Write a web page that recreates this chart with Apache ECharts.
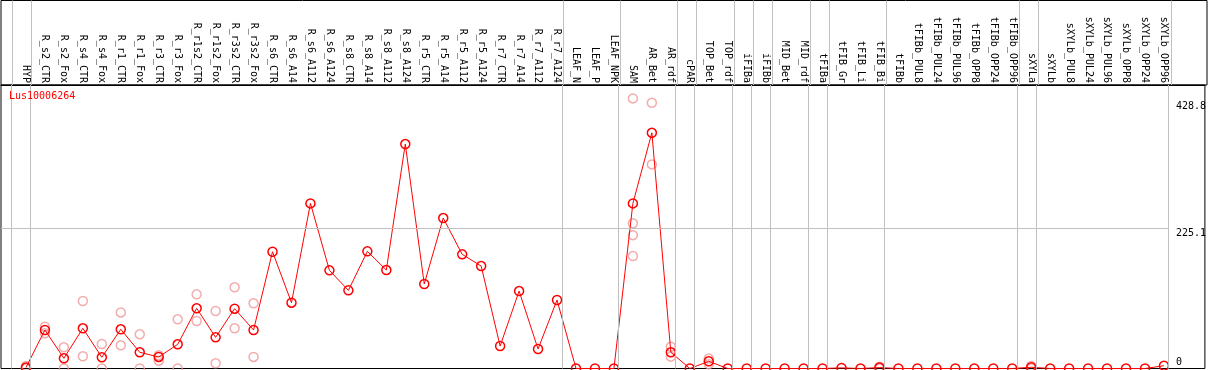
<!DOCTYPE html>
<html>
<head>
<meta charset="utf-8">
<script src="https://cdn.jsdelivr.net/npm/echarts@6/dist/echarts.min.js"></script>
<style>
  html, body { margin: 0; padding: 0; background: #fff; }
  #chart { width: 1209px; height: 370px; }
</style>
</head>
<body>
<div id="chart"></div>
<script>
// 样品名
var categories = ['HYP', 'R_s2_CTR', 'R_s2_Fox', 'R_s4_CTR', 'R_s4_Fox', 'R_r1_CTR', 'R_r1_Fox', 'R_r3_CTR', 'R_r3_Fox',
  'R_r1s2_CTR', 'R_r1s2_Fox', 'R_r3s2_CTR', 'R_r3s2_Fox', 'R_s6_CTR', 'R_s6_A14', 'R_s6_A112', 'R_s6_A124',
  'R_s8_CTR', 'R_s8_A14', 'R_s8_A112', 'R_s8_A124', 'R_r5_CTR', 'R_r5_A14', 'R_r5_A112', 'R_r5_A124',
  'R_r7_CTR', 'R_r7_A14', 'R_r7_A112', 'R_r7_A124', 'LEAF_N', 'LEAF_P', 'LEAF_NPK', 'SAM', 'AR_Bet', 'AR_rdf',
  'cPAR', 'TOP_Bet', 'TOP_rdf', 'iFIBa', 'iFIBb', 'MID_Bet', 'MID_rdf', 'tFIBa', 'tFIB_Gr', 'tFIB_Li', 'tFIB_Bi',
  'tFIBb', 'tFIBb_PUL8', 'tFIBb_PUL24', 'tFIBb_PUL96', 'tFIBb_OPP8', 'tFIBb_OPP24', 'tFIBb_OPP96',
  'sXYLa', 'sXYLb', 'sXYLb_PUL8', 'sXYLb_PUL24', 'sXYLb_PUL96', 'sXYLb_OPP8', 'sXYLb_OPP24', 'sXYLb_OPP96'];
// 平均值
var means = [1.5, 61.8, 16.4, 64.5, 18, 62.9, 26, 18.5, 38.8, 96.6, 50, 96, 61.8, 187.4, 105.6, 265, 157.5,
  125.4, 188, 158, 360.2, 135.6, 241.5, 183.2, 164.4, 36.1, 124.3, 31.3, 109.9, 0, 0, 0, 265, 378.3, 26,
  0, 11.5, 0, 0, 0, 0, 0, 0, 1, 0, 1.5, 0, 0, 0, 0, 0, 0, 0, 2, 0, 0, 0, 0, 0, 0, 4.5];
// 重复值
var reps = [[4, 0], [67, 56.5], [34, 0], [108.3, 19.6], [39.3, 0], [90, 37.2], [54.9, 0], [21.2, 12.5], [79, 0],
  [119, 76.2], [92.3, 8.3], [130.3, 64.5], [104.6, 18.5], [], [], [], [], [], [], [], [], [], [], [], [],
  [], [], [], [], [], [], [], [433.5, 233, 214, 180.5], [426.4, 327.6], [35, 19], [], [16, 7], [], [], [],
  [], [], [], [], [], [3, 0], [], [], [], [], [], [], [], [4, 0], [], [], [], [], [], [], []];
// 分组末尾序号
var groupEnds = [-1, 0, 28, 31, 34, 35, 37, 38, 39, 41, 42, 45, 52, 53, 60];
var yLabels = [0, 225.1, 428.8];
var geneName = 'Lus10006264';

var meanData = means.map(function (v, i) { return [i, v]; });
var repData = [];
reps.forEach(function (arr, i) {
  arr.forEach(function (v) { repData.push([i, v]); });
});
var xIdx = categories.map(function (c, i) { return i; });
var sepLines = groupEnds.map(function (e) { return { xAxis: e + 0.25 }; });

var font = 'DejaVu Sans Mono';
var xMin = (1 - 26) / 19, xMax = (1207 - 26) / 19;

var chart = echarts.init(document.querySelector('#chart'));
option = {
  animation: false,
  backgroundColor: '#fff',
  title: {
    text: geneName,
    left: 4,
    top: 86,
    textStyle: { color: '#ff0000', fontFamily: font, fontSize: 10, fontWeight: 'normal' }
  },
  grid: [
    { left: 1, right: 2, top: 85, height: 283.5, show: true, borderColor: '#000', borderWidth: 1 },
    { left: 1, right: 2, top: 0.5, height: 84.5, show: true, borderColor: '#000', borderWidth: 1 }
  ],
  xAxis: [
    {
      type: 'value', gridIndex: 0, position: 'top', min: xMin, max: xMax,
      axisLine: { show: true, onZero: false, lineStyle: { color: '#000' } },
      axisTick: { show: false },
      splitLine: { show: false },
      axisLabel: {
        customValues: xIdx,
        rotate: 90,
        margin: 2,
        color: '#000',
        fontFamily: font,
        fontSize: 10,
        formatter: function (v) { return categories[v] || ''; }
      }
    },
    { type: 'value', gridIndex: 1, min: xMin, max: xMax, show: false }
  ],
  yAxis: [
    {
      type: 'value', gridIndex: 0, position: 'right', min: 0, max: 455,
      axisLine: { show: false, onZero: false },
      axisTick: { show: false },
      splitLine: { show: false },
      axisLabel: {
        customValues: yLabels,
        inside: true,
        align: 'left',
        margin: 29,
        color: '#000',
        fontFamily: font,
        fontSize: 10,
        formatter: function (v) { return v === 0 ? '{z|0}' : '{a|' + v + '}'; },
        rich: {
          a: { fontFamily: font, fontSize: 10, color: '#000', padding: [10, 0, 0, 0] },
          z: { fontFamily: font, fontSize: 10, color: '#000', padding: [0, 0, 12, 0] }
        }
      }
    },
    { type: 'value', gridIndex: 1, min: 0, max: 1, show: false }
  ],
  series: [
    {
      // 分隔线(标签区)
      type: 'line', xAxisIndex: 1, yAxisIndex: 1, data: [], silent: true,
      markLine: {
        symbol: 'none', silent: true, label: { show: false },
        lineStyle: { color: '#c0c0c0', width: 1, type: 'solid' },
        data: sepLines
      }
    },
    {
      // 分隔线 + 网格线
      type: 'line', xAxisIndex: 0, yAxisIndex: 0, data: [], silent: true,
      markLine: {
        symbol: 'none', silent: true, label: { show: false },
        lineStyle: { color: '#c0c0c0', width: 1, type: 'solid' },
        data: sepLines.concat([[{ coord: [xMin, 225.1] }, { coord: [groupEnds[groupEnds.length - 1] + 0.25, 225.1] }]])
      }
    },
    {
      name: 'reps',
      type: 'scatter',
      data: repData,
      symbol: 'circle',
      symbolSize: 9,
      itemStyle: { color: 'rgba(0,0,0,0)', borderColor: '#ee9999', borderWidth: 1.5 },
      z: 3
    },
    {
      name: geneName,
      type: 'line',
      data: meanData,
      symbol: 'circle',
      symbolSize: 9,
      lineStyle: { color: '#ff0000', width: 1 },
      itemStyle: { color: 'rgba(0,0,0,0)', borderColor: '#ff0000', borderWidth: 1.5 },
      z: 4
    }
  ]
};
chart.setOption(option);
</script>
</body>
</html>
